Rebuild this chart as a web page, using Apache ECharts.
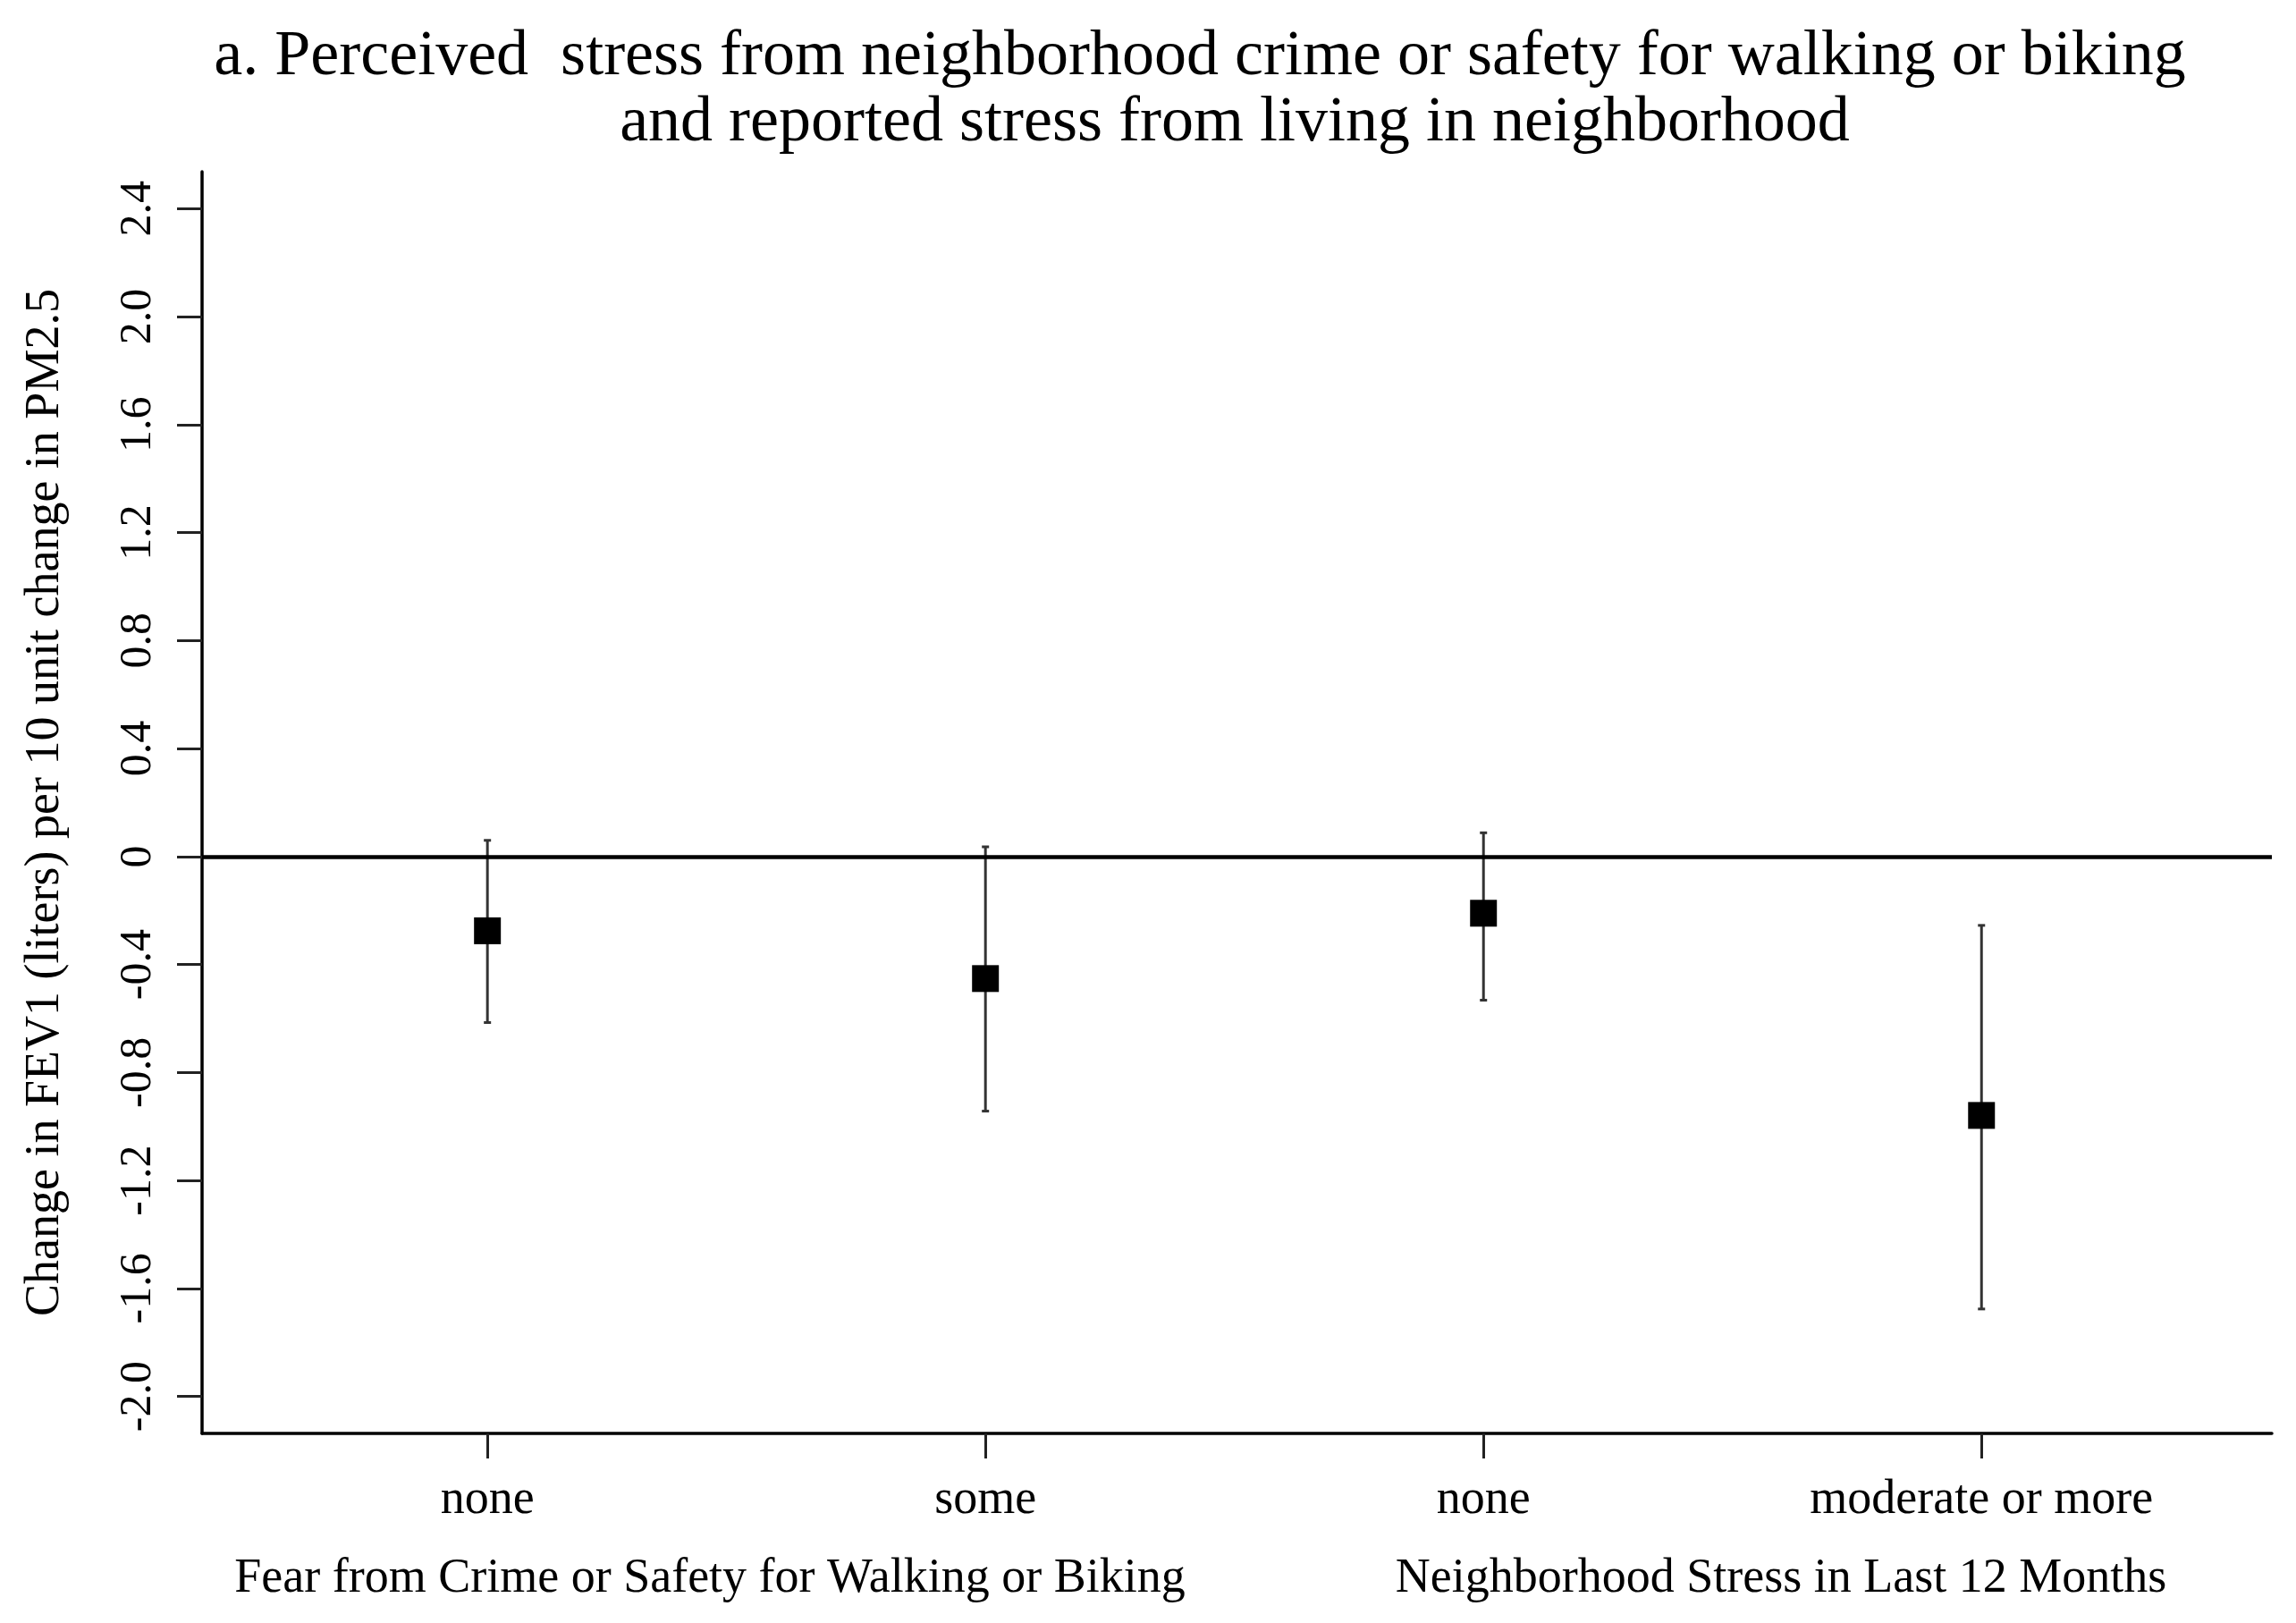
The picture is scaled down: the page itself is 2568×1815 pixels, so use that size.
<!DOCTYPE html>
<html>
<head>
<meta charset="utf-8">
<script src="https://cdn.jsdelivr.net/npm/echarts@6/dist/echarts.min.js"></script>
<style>
html,body{margin:0;padding:0;background:#fff;}
#chart{width:2568px;height:1815px;}
</style>
</head>
<body>
<div id="chart"></div>
<script>
// ---- data ----
const categories = ['none', 'some', 'none', 'moderate or more'];
const xPositions = [1, 2, 3, 4];
const estimates = [-0.275, -0.452, -0.210, -0.959];
const lowerCI = [-0.615, -0.943, -0.532, -1.676];
const upperCI = [0.060, 0.036, 0.088, -0.255];
const groupLabels = ['Fear from Crime or Safety for Walking or Biking', 'Neighborhood Stress in Last 12 Months'];
const yTickValues = [-2.0, -1.6, -1.2, -0.8, -0.4, 0, 0.4, 0.8, 1.2, 1.6, 2.0, 2.4];
const yTickLabels = ['-2.0', '-1.6', '-1.2', '-0.8', '-0.4', '0', '0.4', '0.8', '1.2', '1.6', '2.0', '2.4'];
const titleLines = ['a. Perceived  stress from neighborhood crime or safety for walking or biking',
                    'and reported stress from living in neighborhood'];
const yAxisTitle = 'Change in FEV1 (liters) per 10 unit change in PM2.5';

const FONT = '"Liberation Serif", "DejaVu Serif", serif';

const chart = echarts.init(document.getElementById('chart'), null, {renderer: 'canvas'});

const pointData = xPositions.map((x, i) => [x, estimates[i]]);
const ciData = xPositions.map((x, i) => [x, lowerCI[i], upperCI[i]]);

const option = {
  backgroundColor: '#fff',
  animation: false,
  grid: {left: 226, right: 27, top: 192, bottom: 212, containLabel: false},
  xAxis: {
    type: 'value',
    min: 0.427,
    max: 4.583,
    axisLine: {show: true, onZero: false, lineStyle: {color: '#000', width: 3.5}},
    axisTick: {show: true, customValues: xPositions, length: 28, lineStyle: {color: '#222', width: 3}},
    axisLabel: {
      show: true,
      customValues: xPositions,
      formatter: (v) => categories[xPositions.indexOf(Math.round(v))] || '',
      margin: 48,
      fontFamily: FONT,
      fontSize: 54,
      color: '#000'
    },
    splitLine: {show: false}
  },
  yAxis: {
    type: 'value',
    min: -2.137,
    max: 2.537,
    name: yAxisTitle,
    nameLocation: 'middle',
    nameGap: 148,
    nameRotate: 90,
    nameTextStyle: {fontFamily: FONT, fontSize: 54, color: '#000'},
    axisLine: {show: true, onZero: false, lineStyle: {color: '#000', width: 3.5}},
    axisTick: {show: true, customValues: yTickValues, length: 28, lineStyle: {color: '#222', width: 3}},
    axisLabel: {
      show: true,
      customValues: yTickValues,
      rotate: 90,
      margin: 46,
      formatter: (v) => {
        const i = yTickValues.findIndex(t => Math.abs(t - v) < 1e-6);
        return i >= 0 ? yTickLabels[i] : '';
      },
      fontFamily: FONT,
      fontSize: 50,
      color: '#000'
    },
    splitLine: {show: false}
  },
  graphic: [
    {type: 'text', x: 1342, y: 64, style: {text: titleLines[0], fontFamily: FONT, fontSize: 72, fill: '#000', align: 'center', verticalAlign: 'middle'}},
    {type: 'text', x: 1381, y: 138, style: {text: titleLines[1], fontFamily: FONT, fontSize: 72, fill: '#000', align: 'center', verticalAlign: 'middle'}},
    {type: 'text', x: 794, y: 1766, style: {text: groupLabels[0], fontFamily: FONT, fontSize: 54, fill: '#000', align: 'center', verticalAlign: 'middle'}},
    {type: 'text', x: 1992, y: 1766, style: {text: groupLabels[1], fontFamily: FONT, fontSize: 54, fill: '#000', align: 'center', verticalAlign: 'middle'}}
  ],
  series: [
    {
      type: 'custom',
      name: 'CI',
      data: ciData,
      encode: {x: 0, y: [1, 2]},
      z: 2,
      silent: true,
      renderItem: function (params, api) {
        const x = api.value(0);
        const lo = api.value(1);
        const hi = api.value(2);
        const top = api.coord([x, hi]);
        const bot = api.coord([x, lo]);
        const cw = 4;
        const st = {stroke: '#333', lineWidth: 3};
        return {
          type: 'group',
          children: [
            {type: 'line', shape: {x1: top[0], y1: top[1], x2: bot[0], y2: bot[1]}, style: st},
            {type: 'line', shape: {x1: top[0] - cw, y1: top[1], x2: top[0] + cw, y2: top[1]}, style: st},
            {type: 'line', shape: {x1: bot[0] - cw, y1: bot[1], x2: bot[0] + cw, y2: bot[1]}, style: st}
          ]
        };
      },
      markLine: {
        silent: true,
        symbol: ['none', 'none'],
        label: {show: false},
        lineStyle: {color: '#000', width: 4.5, type: 'solid', opacity: 1},
        data: [{yAxis: 0}]
      }
    },
    {
      type: 'scatter',
      name: 'Estimate',
      data: pointData,
      symbol: 'rect',
      symbolSize: 30,
      itemStyle: {color: '#000', opacity: 1},
      z: 3,
      silent: true
    }
  ]
};
chart.setOption(option);
</script>
</body>
</html>
